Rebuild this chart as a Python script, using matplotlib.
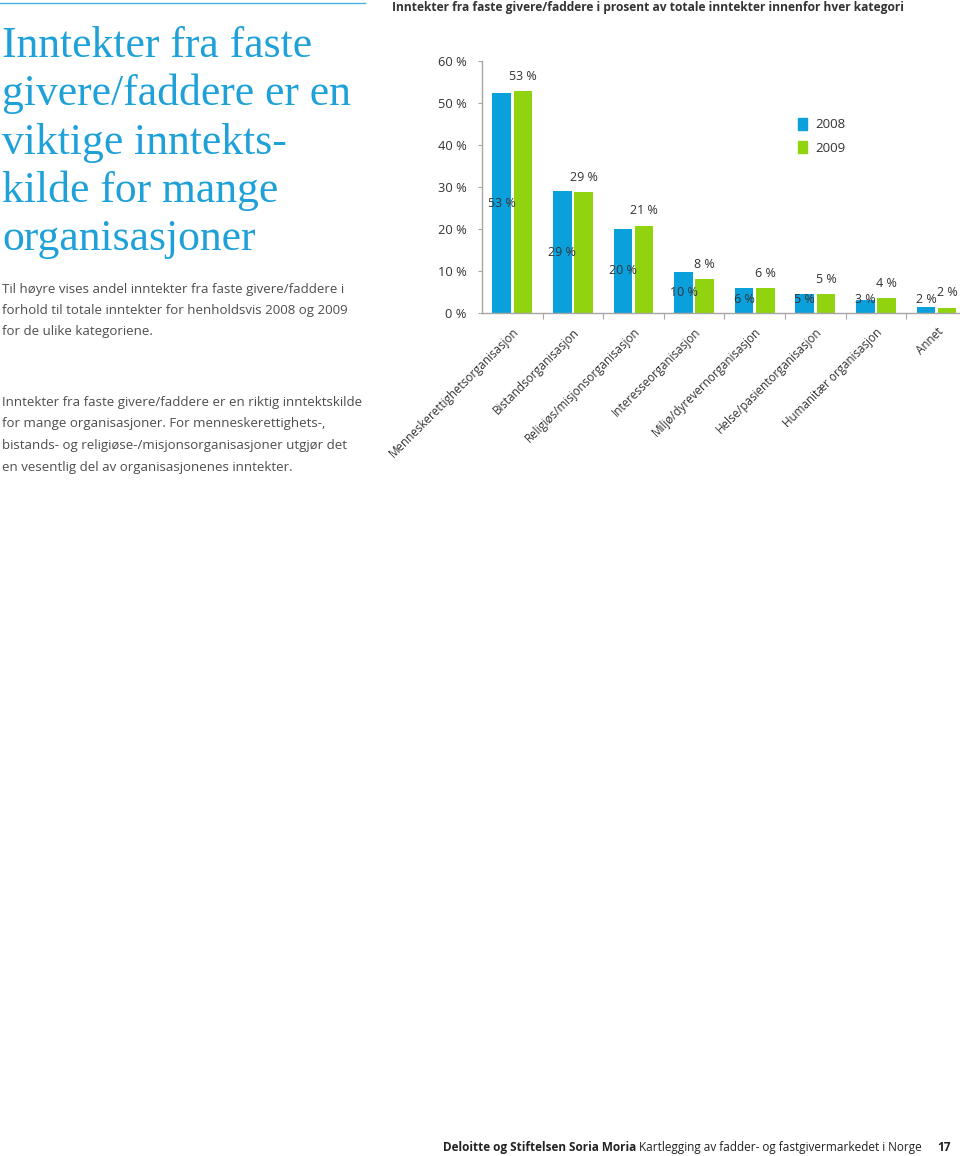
import matplotlib
matplotlib.use("Agg")
import matplotlib.pyplot as plt
import numpy as np
from matplotlib.patches import Patch

# data lest av figuren
kategorier = ["Menneskerettighetsorganisasjon", "Bistandsorganisasjon",
              "Religiøs/misjonsorganisasjon", "Interesseorganisasjon",
              "Miljø/dyrevernorganisasjon", "Helse/pasientorganisasjon",
              "Humanitær organisasjon", "Annet"]
andel_2008 = [52.3, 29.0, 20.0, 9.8, 6.0, 4.6, 3.0, 1.5]
andel_2009 = [52.8, 28.8, 20.8, 8.1, 5.9, 4.5, 3.5, 1.3]
etiketter_2008 = ["53 %", "29 %", "20 %", "10 %", "6 %", "5 %", "3 %", "2 %"]
etiketter_2009 = ["53 %", "29 %", "21 %", "8 %", "6 %", "5 %", "4 %", "2 %"]
y_ticks = [0, 10, 20, 30, 40, 50, 60]

overskrift = ["Inntekter fra faste", "givere/faddere er en", "viktige inntekts-",
              "kilde for mange", "organisasjoner"]
avsnitt_1 = ["Til høyre vises andel inntekter fra faste givere/faddere i",
             "forhold til totale inntekter for henholdsvis 2008 og 2009",
             "for de ulike kategoriene."]
avsnitt_2 = ["Inntekter fra faste givere/faddere er en riktig inntektskilde",
             "for mange organisasjoner. For menneskerettighets-,",
             "bistands- og religiøse-/misjonsorganisasjoner utgjør det",
             "en vesentlig del av organisasjonenes inntekter."]
tittel = "Inntekter fra faste givere/faddere i prosent av totale inntekter innenfor hver kategori"

BLA = "#0aa0dc"
GRONN = "#92d30f"
TEKST = "#333333"
BROD = "#4d4d4d"
OVERSKRIFT = "#1ea0d8"

W, H = 960, 1156
plt.rcParams['font.family'] = ['Open Sans', 'DejaVu Sans']
fig = plt.figure(figsize=(W / 100, H / 100), dpi=100)
renderer = fig.canvas.get_renderer()


def tekst(x, y, s, bredde=None, **kw):
    t = fig.text(x / W, 1 - y / H, s, **kw)
    if bredde:
        w = t.get_window_extent(renderer).width
        t.set_fontsize(t.get_fontsize() * bredde / w)
    return t


# venstre kolonne
fig.add_artist(plt.Line2D([0, 365 / W], [1 - 3 / H, 1 - 3 / H], color="#4ab0e0", lw=1))

t = tekst(2, 57, overskrift[0], bredde=310, family="Liberation Serif", fontsize=30,
          color=OVERSKRIFT, va="baseline")
fs_overskrift = t.get_fontsize()
for i, linje in enumerate(overskrift[1:], start=1):
    tekst(2, 57 + i * 48.3, linje, family="Liberation Serif", fontsize=fs_overskrift,
          color=OVERSKRIFT, va="baseline")

# avsnittene tilpasses bredden av den lengste linjen
t = tekst(2, 405.5, avsnitt_2[0], bredde=358, fontsize=10, color=BROD, va="baseline")
fs_brod = t.get_fontsize()
for i, linje in enumerate(avsnitt_1):
    tekst(2, 293 + i * 21.2, linje, fontsize=fs_brod, color=BROD, va="baseline")
for i, linje in enumerate(avsnitt_2[1:], start=1):
    tekst(2, 405.5 + i * 21.7, linje, fontsize=fs_brod, color=BROD, va="baseline")

# diagramtittel
tekst(392, 11, tittel, bredde=511, fontsize=9, weight="bold", color=TEKST, va="baseline")

# diagram
ax = fig.add_axes([482 / W, 1 - 313 / H, 1 - 482 / W, (313 - 61) / H])
x = np.arange(len(kategorier))
bw = 0.31
ax.bar(x - 0.175, andel_2008, bw, color=BLA, label="2008")
ax.bar(x + 0.175, andel_2009, bw, color=GRONN, label="2009")

for xi, v, s in zip(x, andel_2008, etiketter_2008):
    ax.text(xi - 0.175, max(v / 2, 3.3), s, ha="center", va="center",
            fontsize=9, color=TEKST, clip_on=False)
for xi, v, s in zip(x, andel_2009, etiketter_2009):
    ax.text(xi + 0.175, v + 3.5, s, ha="center", va="center",
            fontsize=9, color=TEKST, clip_on=False)

ax.set_xlim(-0.5, (W - 482) / 60.6 - 0.5)
ax.set_ylim(0, 60)
ax.set_yticks(y_ticks)
ax.set_yticklabels([f"{v} %" for v in y_ticks], fontsize=9.3, color=TEKST)
ax.set_xticks(x[:-1] + 0.5)
ax.set_xticklabels([])
ax.set_xticks(x, minor=True)
ax.set_xticklabels(kategorier, minor=True, rotation=45, ha="right",
                   rotation_mode="anchor", fontsize=8.4, color=TEKST)
ax.tick_params(axis="x", which="minor", length=0, pad=9)
ax.tick_params(axis="x", which="major", length=4, color="#a6a6a6", direction="out")
ax.tick_params(axis="y", length=3, color="#a6a6a6", pad=8)
for side in ["top", "right"]:
    ax.spines[side].set_visible(False)
for side in ["left", "bottom"]:
    ax.spines[side].set_color("#a6a6a6")
    ax.spines[side].set_linewidth(1)

fig.legend(handles=[Patch(color=BLA, label="2008"), Patch(color=GRONN, label="2009")],
           loc="upper left", bbox_to_anchor=(786 / W, 1 - 106 / H), frameon=False,
           fontsize=9.5, labelcolor=TEKST, handlelength=0.7, handleheight=1.0,
           handletextpad=0.6, labelspacing=0.75)

# bunntekst
t1 = tekst(443, 1151, "Deloitte og Stiftelsen Soria Moria ", fontsize=10, weight="bold",
           color="#222222", va="baseline")
t2 = tekst(0, 1151, "Kartlegging av fadder- og fastgivermarkedet i Norge", fontsize=10,
           color="#222222", va="baseline")
w1 = t1.get_window_extent(renderer).width
w2 = t2.get_window_extent(renderer).width
faktor = (922 - 443) / (w1 + w2)
t1.set_fontsize(10 * faktor)
t2.set_fontsize(10 * faktor)
w1 = t1.get_window_extent(renderer).width
t2.set_x((443 + w1) / W)
tekst(937, 1151, "17", fontsize=10 * faktor, weight="bold", color="#222222", va="baseline")

fig.savefig("out.png", dpi=100)
